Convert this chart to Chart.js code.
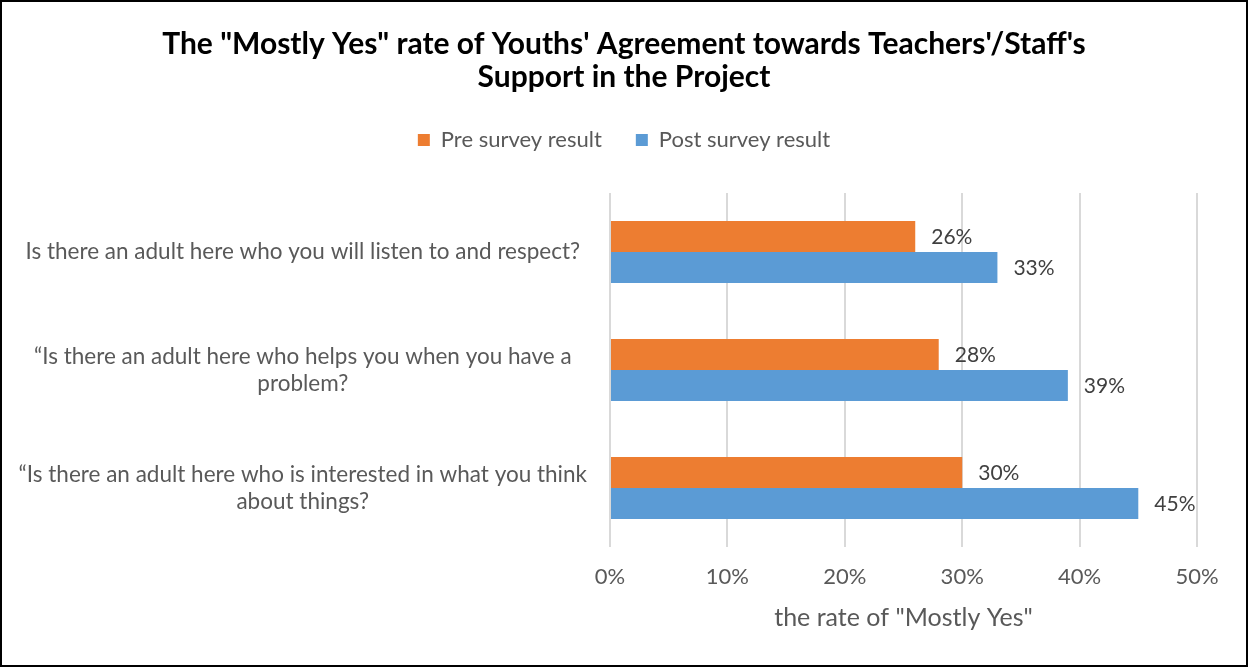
<!DOCTYPE html>
<html>
<head>
<meta charset="utf-8">
<script src="https://cdn.jsdelivr.net/npm/chart.js@4.4.1/dist/chart.umd.min.js"></script>
<style>
  html, body { margin: 0; padding: 0; background: #ffffff; }
  #wrap { width: 1248px; height: 667px; position: relative; }
</style>
</head>
<body>
<div id="wrap"><canvas id="chart" width="1248" height="667"></canvas></div>
<script>
// ---- chart data ----
const titleLines = [
  'The "Mostly Yes" rate of Youths\' Agreement towards Teachers\'/Staff\'s',
  'Support in the Project'
];
const categories = [
  ['Is there an adult here who you will listen to and respect?'],
  ['\u201CIs there an adult here who helps you when you have a', 'problem?'],
  ['\u201CIs there an adult here who is interested in what you think', 'about things?']
];
const seriesNames = ['Pre survey result', 'Post survey result'];
const preValues = [26, 28, 30];
const postValues = [33, 39, 45];
const xTickValues = [0, 10, 20, 30, 40, 50];
const xAxisTitle = 'the rate of "Mostly Yes"';

// ---- look ----
const FONT = 'Lato';
const TEXT_GREY = '#595959';
Chart.defaults.font.family = FONT;

// adds space between the legend and the plot
const legendGap = {
  id: 'legendGap',
  beforeLayout(chart) {
    const lg = chart.legend;
    if (lg && !lg._gapPatched) {
      const fit = lg.fit;
      lg.fit = function () { fit.call(this); this.height += 32; };
      lg._gapPatched = true;
    }
  }
};

// percentage labels at the end of each bar
const valueLabels = {
  id: 'valueLabels',
  afterDatasetsDraw(chart) {
    const ctx = chart.ctx;
    ctx.save();
    ctx.font = '21px ' + FONT;
    ctx.fillStyle = '#404040';
    ctx.textAlign = 'left';
    ctx.textBaseline = 'middle';
    chart.data.datasets.forEach((ds, i) => {
      chart.getDatasetMeta(i).data.forEach((bar, j) => {
        ctx.fillText(ds.data[j] + '%', bar.x + 16, bar.y + 1);
      });
    });
    ctx.restore();
  }
};

// outer frame
const frame = {
  id: 'frame',
  afterDraw(chart) {
    const ctx = chart.ctx;
    ctx.save();
    ctx.strokeStyle = '#000000';
    ctx.lineWidth = 2;
    ctx.strokeRect(1, 1, chart.width - 2, chart.height - 2);
    ctx.restore();
  }
};

new Chart(document.getElementById('chart'), {
  type: 'bar',
  data: {
    labels: categories,
    datasets: [
      {
        label: seriesNames[0],
        data: preValues,
        backgroundColor: '#ED7D31',
        borderWidth: 0,
        barPercentage: 1,
        categoryPercentage: 0.525
      },
      {
        label: seriesNames[1],
        data: postValues,
        backgroundColor: '#5B9BD5',
        borderWidth: 0,
        barPercentage: 1,
        categoryPercentage: 0.525
      }
    ]
  },
  options: {
    indexAxis: 'y',
    responsive: false,
    animation: false,
    devicePixelRatio: 1,
    layout: { padding: { left: 0, right: 0, top: 0, bottom: 34 } },
    scales: {
      x: {
        min: 0,
        max: 50,
        afterBuildTicks(scale) {
          scale.ticks = xTickValues.map(v => ({ value: v }));
        },
        afterFit(scale) {
          scale.height = 86;
          scale.paddingRight = 51;
        },
        ticks: {
          padding: 17,
          color: TEXT_GREY,
          font: { size: 22 },
          callback: v => v + '%'
        },
        grid: { color: '#d9d9d9', lineWidth: 2, drawTicks: false },
        border: { display: false },
        title: {
          display: true,
          text: xAxisTitle,
          color: TEXT_GREY,
          font: { size: 25 },
          padding: { top: 0, bottom: 0 }
        }
      },
      y: {
        afterFit(scale) { scale.width = 610; },
        ticks: {
          crossAlign: 'center',
          padding: 23,
          color: TEXT_GREY,
          font: { size: 22.5 }
        },
        grid: { display: false, drawTicks: false },
        border: { display: false }
      }
    },
    plugins: {
      title: {
        display: true,
        text: titleLines,
        color: '#000000',
        font: { size: 30, weight: 'bold', lineHeight: 1.1 },
        padding: { top: 28, bottom: 1 }
      },
      legend: {
        labels: {
          boxWidth: 12,
          boxHeight: 12,
          padding: 34,
          color: TEXT_GREY,
          font: { size: 22 }
        }
      },
      tooltip: { enabled: false }
    }
  },
  plugins: [legendGap, valueLabels, frame]
});
</script>
</body>
</html>
